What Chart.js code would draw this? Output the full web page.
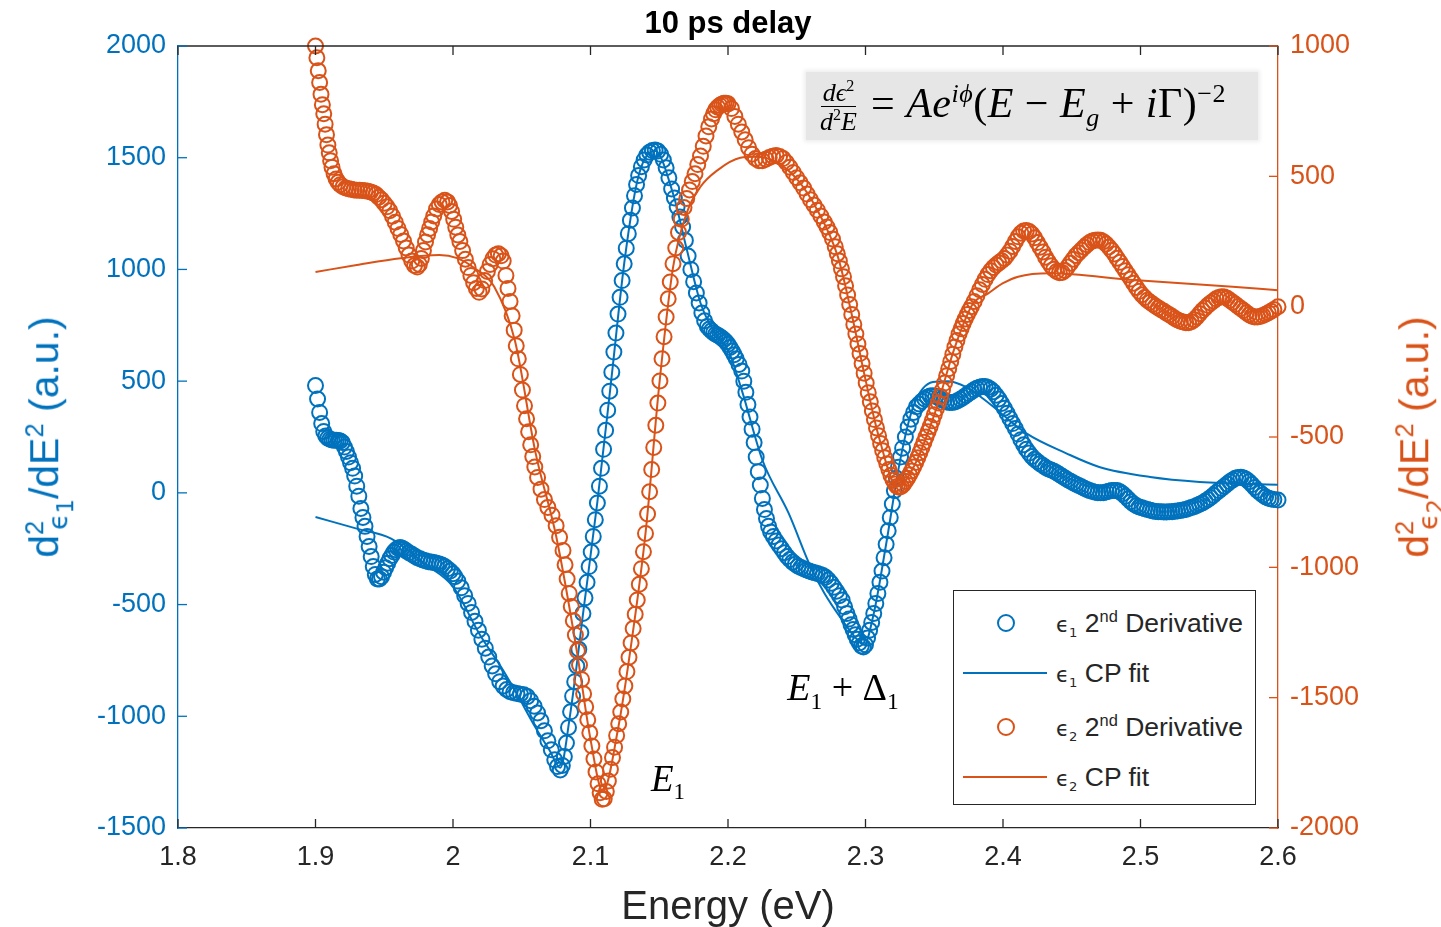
<!DOCTYPE html>
<html>
<head>
<meta charset="utf-8">
<title>10 ps delay</title>
<script src="https://cdn.jsdelivr.net/npm/chart.js@4.4.0/dist/chart.umd.min.js"></script>
<style>
  html, body { margin: 0; padding: 0; background: #fff; overflow: hidden; }
  #wrap { position: relative; width: 1441px; height: 927px; font-family: "Liberation Sans", Arial, sans-serif; }
  #chart { position: absolute; left: 0; top: 0; }
  .lbl { position: absolute; white-space: nowrap; line-height: 1; transform: translate(-50%, -50%); }
  .lbl sup, .lbl sub { font-size: 0.62em; line-height: 0; }
  #title { left: 728px; top: 22px; font-weight: bold; font-size: 31px; color: #000; }
  #xtitle { left: 728px; top: 905px; font-size: 40px; color: #262626; }
  .ytitle { top: 437px; font-size: 41px; }
  #ytitleL { left: 45px; color: #0072BD; transform: translate(-50%, -50%) rotate(-90deg); }
  #ytitleR { left: 1415px; color: #D95319; transform: translate(-50%, -50%) rotate(-90deg); }
  .eps { font-family: "DejaVu Sans", sans-serif; font-size: 0.8em; }
  .eps sub { font-size: 0.85em; }
  .ssub { margin-left: -0.36em; }
  .ytitle .ssub .eps { font-size: 1.05em; }
  .math { font-family: "Liberation Serif", "DejaVu Serif", serif; color: #000; }
  .math i { font-style: italic; }
  #eq { position: absolute; left: 806px; top: 72px; width: 452px; height: 68px; background: #e6e6e6;
        box-shadow: 0 0 4px 2px #eeeeee; display: flex; align-items: center; font-size: 42px; }
  #eq .frac { display: inline-flex; flex-direction: column; align-items: center; font-size: 26px; margin: 0 14px 0 14px; line-height: 1.0; }
  #eq .frac .num { border-bottom: 1.4px solid #000; padding: 0 2px; }
  #eq sup, #eq sub { font-size: 0.62em; }
  #eq .rhs { letter-spacing: 0.5px; }
  #e1 { left: 668px; top: 778px; font-size: 37px; }
  #e1d { left: 843px; top: 687px; font-size: 38px; }
  #legend { position: absolute; left: 953px; top: 590px; width: 301px; height: 213px; border: 1.3px solid #262626; background: #fff; }
  .row { position: absolute; left: 0; height: 0; width: 100%; }
  .row .txt { position: absolute; left: 102px; top: 0; transform: translateY(-50%); font-size: 26.5px; color: #262626; white-space: nowrap; line-height: 1; }
  .row .txt sup, .row .txt sub { font-size: 0.62em; line-height: 0; }
  .circ { position: absolute; left: 43px; top: -9px; width: 14px; height: 14px; border-radius: 50%; border: 2px solid; }
  .seg { position: absolute; left: 9px; top: -1px; width: 84px; height: 2px; }
</style>
</head>
<body>
<div id="wrap">
  <canvas id="chart" width="1441" height="927"></canvas>

  <div class="lbl" id="title">10 ps delay</div>
  <div class="lbl" id="xtitle">Energy (eV)</div>
  <div class="lbl ytitle" id="ytitleL">d<sup>2</sup><sub class="ssub"><span class="eps">ϵ<sub>1</sub></span></sub>/dE<sup>2</sup> (a.u.)</div>
  <div class="lbl ytitle" id="ytitleR">d<sup>2</sup><sub class="ssub"><span class="eps">ϵ<sub>2</sub></span></sub>/dE<sup>2</sup> (a.u.)</div>

  <div id="eq" class="math">
    <span class="frac"><span class="num"><i>dϵ</i><sup>2</sup></span><span class="den"><i>d</i><sup>2</sup><i>E</i></span></span>
    <span class="rhs">= <i>Ae</i><sup><i>iϕ</i></sup>(<i>E</i> − <i>E</i><sub><i>g</i></sub> + <i>i</i>Γ)<sup>−2</sup></span>
  </div>

  <div class="lbl math" id="e1"><i>E</i><sub>1</sub></div>
  <div class="lbl math" id="e1d"><i>E</i><sub>1</sub> + Δ<sub>1</sub></div>

  <div id="legend">
    <div class="row" style="top:32px"><span class="circ" style="border-color:#0072BD"></span><span class="txt"><span class="eps">ϵ<sub>1</sub></span> 2<sup>nd</sup> Derivative</span></div>
    <div class="row" style="top:82px"><span class="seg" style="background:#0072BD"></span><span class="txt"><span class="eps">ϵ<sub>1</sub></span> CP fit</span></div>
    <div class="row" style="top:136px"><span class="circ" style="border-color:#D95319"></span><span class="txt"><span class="eps">ϵ<sub>2</sub></span> 2<sup>nd</sup> Derivative</span></div>
    <div class="row" style="top:186px"><span class="seg" style="background:#D95319"></span><span class="txt"><span class="eps">ϵ<sub>2</sub></span> CP fit</span></div>
  </div>
</div>

<script>
// [energy (eV), value] pairs
const eps1Data = [[1.9,480],[1.9015,420],[1.903,360],[1.9045,310],[1.906,275],[1.9075,255],[1.909,245],[1.9105,240],[1.912,237],[1.9135,236],[1.915,235],[1.9165,234],[1.918,232],[1.9195,225],[1.921,205],[1.9225,185],[1.924,160],[1.9255,135],[1.927,110],[1.9285,75],[1.93,30],[1.9315,-15],[1.933,-70],[1.9345,-110],[1.936,-150],[1.9375,-195],[1.939,-240],[1.9405,-285],[1.942,-330],[1.9435,-365],[1.945,-385],[1.9465,-385],[1.948,-375],[1.9495,-355],[1.951,-335],[1.9525,-315],[1.954,-295],[1.9555,-280],[1.957,-265],[1.9585,-255],[1.96,-248],[1.9615,-245],[1.963,-248],[1.9645,-253],[1.966,-260],[1.968,-268],[1.97,-275],[1.972,-283],[1.974,-290],[1.976,-295],[1.978,-300],[1.98,-304],[1.982,-308],[1.984,-310],[1.986,-312],[1.988,-315],[1.99,-318],[1.992,-323],[1.994,-330],[1.996,-340],[1.998,-350],[2.0,-362],[2.0015,-375],[2.0035,-395],[2.006,-425],[2.0085,-460],[2.011,-495],[2.0135,-535],[2.016,-575],[2.0185,-615],[2.021,-655],[2.0235,-695],[2.026,-735],[2.0285,-775],[2.031,-810],[2.034,-845],[2.0365,-865],[2.039,-880],[2.0415,-890],[2.044,-895],[2.0465,-898],[2.049,-901],[2.0515,-904],[2.054,-912],[2.0565,-930],[2.059,-955],[2.0615,-985],[2.064,-1020],[2.0665,-1065],[2.069,-1110],[2.0715,-1150],[2.074,-1195],[2.076,-1225],[2.078,-1240],[2.0795,-1220],[2.081,-1180],[2.0825,-1120],[2.084,-1050],[2.0855,-980],[2.087,-910],[2.0885,-845],[2.09,-775],[2.0915,-700],[2.093,-625],[2.0945,-540],[2.096,-470],[2.0975,-400],[2.099,-330],[2.1005,-265],[2.102,-195],[2.1035,-120],[2.105,-45],[2.1065,30],[2.108,110],[2.1095,195],[2.111,280],[2.1125,370],[2.114,455],[2.1155,540],[2.117,630],[2.1185,715],[2.12,800],[2.1215,875],[2.123,950],[2.1245,1025],[2.126,1095],[2.1275,1160],[2.129,1220],[2.1305,1275],[2.132,1330],[2.1335,1380],[2.135,1420],[2.137,1460],[2.139,1490],[2.141,1512],[2.143,1525],[2.145,1532],[2.147,1535],[2.149,1530],[2.151,1515],[2.153,1490],[2.155,1455],[2.157,1410],[2.159,1360],[2.161,1320],[2.163,1280],[2.165,1235],[2.167,1190],[2.169,1130],[2.171,1060],[2.173,1000],[2.175,945],[2.177,895],[2.179,850],[2.181,805],[2.183,770],[2.185,745],[2.1865,733],[2.188,725],[2.1895,717],[2.191,710],[2.1925,705],[2.194,700],[2.1955,693],[2.197,685],[2.1985,676],[2.2,665],[2.2015,651],[2.203,635],[2.2045,618],[2.206,600],[2.208,575],[2.21,545],[2.2115,500],[2.213,450],[2.2145,395],[2.216,340],[2.2175,285],[2.219,225],[2.2205,160],[2.222,95],[2.2235,35],[2.225,-25],[2.2265,-75],[2.228,-115],[2.2295,-150],[2.231,-175],[2.233,-195],[2.235,-215],[2.237,-233],[2.239,-250],[2.241,-268],[2.243,-285],[2.245,-298],[2.247,-310],[2.249,-320],[2.251,-328],[2.253,-334],[2.255,-340],[2.257,-345],[2.259,-350],[2.261,-354],[2.263,-358],[2.265,-361],[2.267,-365],[2.269,-370],[2.271,-378],[2.273,-390],[2.275,-405],[2.277,-422],[2.279,-440],[2.281,-460],[2.283,-480],[2.2848,-510],[2.2865,-540],[2.288,-565],[2.2895,-590],[2.291,-612],[2.2925,-635],[2.294,-655],[2.2955,-672],[2.297,-685],[2.2985,-690],[2.3,-680],[2.3015,-650],[2.303,-615],[2.3045,-580],[2.306,-540],[2.3075,-495],[2.309,-450],[2.3105,-400],[2.312,-350],[2.3135,-290],[2.315,-230],[2.3165,-170],[2.318,-110],[2.3195,-50],[2.321,10],[2.3225,65],[2.324,115],[2.3255,160],[2.327,200],[2.329,250],[2.331,295],[2.333,330],[2.335,360],[2.337,385],[2.339,398],[2.341,410],[2.343,420],[2.345,428],[2.347,433],[2.349,435],[2.351,432],[2.353,426],[2.355,418],[2.357,412],[2.359,407],[2.361,404],[2.363,404],[2.365,407],[2.367,412],[2.369,419],[2.371,427],[2.373,436],[2.375,445],[2.377,453],[2.379,461],[2.381,468],[2.383,473],[2.385,476],[2.387,476],[2.389,472],[2.391,464],[2.393,452],[2.395,437],[2.397,420],[2.399,400],[2.401,379],[2.403,356],[2.405,333],[2.407,310],[2.409,288],[2.411,263],[2.413,238],[2.415,215],[2.417,195],[2.419,178],[2.421,163],[2.423,150],[2.425,140],[2.427,130],[2.429,122],[2.431,114],[2.433,107],[2.435,102],[2.437,97],[2.439,90],[2.441,82],[2.443,74],[2.445,66],[2.447,59],[2.449,52],[2.451,45],[2.453,39],[2.455,33],[2.457,27],[2.459,21],[2.461,15],[2.463,10],[2.465,6],[2.467,3],[2.469,1],[2.471,0],[2.473,1],[2.475,4],[2.477,7],[2.479,10],[2.481,11],[2.483,10],[2.485,5],[2.487,-4],[2.489,-15],[2.491,-28],[2.493,-40],[2.495,-50],[2.497,-58],[2.499,-63],[2.501,-67],[2.503,-71],[2.505,-75],[2.507,-78],[2.509,-81],[2.511,-83],[2.513,-84],[2.515,-85],[2.517,-86],[2.519,-86],[2.521,-85],[2.523,-84],[2.525,-82],[2.527,-81],[2.529,-79],[2.531,-77],[2.533,-74],[2.535,-70],[2.537,-66],[2.539,-62],[2.541,-57],[2.543,-51],[2.545,-45],[2.547,-38],[2.549,-30],[2.551,-21],[2.553,-11],[2.555,0],[2.557,10],[2.559,20],[2.561,30],[2.563,40],[2.565,50],[2.567,58],[2.569,65],[2.571,69],[2.573,70],[2.575,67],[2.577,60],[2.579,50],[2.581,37],[2.583,24],[2.585,11],[2.587,0],[2.589,-10],[2.591,-18],[2.593,-24],[2.595,-28],[2.597,-30],[2.6,-32]];

const eps1Fit = [[1.9,-108],[1.93,-160],[1.955,-205],[1.98,-320],[2.0,-420],[2.02,-640],[2.035,-780],[2.046,-895],[2.06,-1050],[2.07,-1150],[2.078,-1230],[2.085,-1000],[2.095,-520],[2.105,-40],[2.115,500],[2.125,1050],[2.135,1420],[2.147,1530],[2.16,1340],[2.17,1090],[2.18,850],[2.19,720],[2.2,640],[2.21,460],[2.225,147],[2.244,-90],[2.26,-330],[2.27,-448],[2.283,-569],[2.293,-650],[2.299,-680],[2.306,-540],[2.315,-230],[2.325,140],[2.335,390],[2.349,496],[2.36,500],[2.373,474],[2.39,400],[2.417,266],[2.446,177],[2.47,116],[2.507,71],[2.543,49],[2.6,36]];

const eps2Data = [[1.9,1000],[1.901,955],[1.902,905],[1.903,860],[1.904,815],[1.905,775],[1.906,740],[1.907,700],[1.908,660],[1.909,620],[1.91,590],[1.911,560],[1.912,535],[1.9135,510],[1.915,490],[1.9165,477],[1.918,468],[1.92,460],[1.922,455],[1.924,452],[1.926,450],[1.928,448],[1.93,447],[1.932,447],[1.934,446],[1.936,445],[1.938,443],[1.94,440],[1.942,436],[1.944,430],[1.946,420],[1.948,410],[1.95,397],[1.952,383],[1.954,368],[1.956,347],[1.958,324],[1.96,300],[1.962,277],[1.964,252],[1.966,225],[1.968,198],[1.97,175],[1.972,158],[1.974,152],[1.9755,162],[1.977,185],[1.9785,215],[1.98,248],[1.9815,276],[1.983,300],[1.9845,325],[1.986,348],[1.988,375],[1.99,392],[1.992,402],[1.994,408],[1.996,402],[1.9975,388],[1.999,365],[2.0005,335],[2.002,305],[2.0035,275],[2.005,250],[2.007,215],[2.009,182],[2.011,150],[2.013,120],[2.015,92],[2.017,70],[2.019,55],[2.021,68],[2.023,100],[2.025,135],[2.027,162],[2.029,184],[2.031,198],[2.033,203],[2.035,195],[2.0365,175],[2.0385,120],[2.04,70],[2.0415,20],[2.043,-35],[2.0445,-90],[2.046,-150],[2.0475,-200],[2.049,-260],[2.0505,-320],[2.052,-380],[2.0535,-430],[2.055,-480],[2.0565,-530],[2.058,-575],[2.0595,-615],[2.0615,-655],[2.064,-700],[2.0665,-740],[2.069,-770],[2.072,-800],[2.075,-840],[2.0775,-885],[2.08,-935],[2.0815,-990],[2.083,-1045],[2.0845,-1100],[2.086,-1150],[2.0875,-1205],[2.089,-1260],[2.0905,-1320],[2.092,-1375],[2.0935,-1430],[2.095,-1485],[2.0965,-1535],[2.098,-1585],[2.0995,-1635],[2.101,-1685],[2.1025,-1735],[2.104,-1785],[2.1055,-1830],[2.107,-1865],[2.1085,-1890],[2.11,-1888],[2.1115,-1860],[2.113,-1820],[2.1145,-1775],[2.116,-1730],[2.1175,-1690],[2.119,-1645],[2.1205,-1600],[2.122,-1555],[2.1235,-1505],[2.125,-1455],[2.1265,-1400],[2.128,-1345],[2.1295,-1290],[2.131,-1235],[2.1325,-1180],[2.134,-1125],[2.1355,-1065],[2.137,-1005],[2.1385,-940],[2.14,-870],[2.1415,-795],[2.143,-710],[2.1445,-625],[2.146,-540],[2.1475,-455],[2.149,-370],[2.1505,-285],[2.152,-200],[2.1535,-115],[2.155,-40],[2.1565,30],[2.158,95],[2.16,165],[2.162,225],[2.164,285],[2.166,335],[2.168,380],[2.17,415],[2.172,448],[2.174,480],[2.176,510],[2.178,545],[2.18,578],[2.182,615],[2.184,655],[2.186,690],[2.188,720],[2.1895,740],[2.191,755],[2.1925,765],[2.194,772],[2.1955,777],[2.197,780],[2.1985,780],[2.2,778],[2.2025,760],[2.205,730],[2.2075,700],[2.21,670],[2.2125,640],[2.215,610],[2.2175,585],[2.22,568],[2.2225,560],[2.225,560],[2.2275,566],[2.23,572],[2.2325,577],[2.235,580],[2.2375,576],[2.24,568],[2.2425,553],[2.245,535],[2.2475,515],[2.25,495],[2.2525,475],[2.255,455],[2.2575,432],[2.26,410],[2.2625,390],[2.265,370],[2.2675,348],[2.27,325],[2.272,306],[2.274,285],[2.276,260],[2.278,230],[2.2795,203],[2.281,175],[2.2825,145],[2.284,115],[2.2855,80],[2.287,45],[2.2885,8],[2.29,-30],[2.2915,-68],[2.293,-105],[2.2945,-143],[2.296,-180],[2.2975,-218],[2.299,-255],[2.3005,-293],[2.302,-330],[2.3035,-365],[2.305,-400],[2.3065,-433],[2.308,-465],[2.3095,-495],[2.311,-525],[2.3125,-553],[2.314,-580],[2.3155,-603],[2.317,-625],[2.3185,-647],[2.32,-665],[2.3215,-680],[2.323,-690],[2.3245,-693],[2.326,-690],[2.3275,-682],[2.329,-670],[2.3305,-658],[2.332,-645],[2.3335,-630],[2.335,-615],[2.3365,-598],[2.338,-580],[2.3395,-560],[2.341,-540],[2.3425,-520],[2.344,-500],[2.3455,-480],[2.347,-460],[2.3485,-438],[2.35,-415],[2.3515,-393],[2.353,-370],[2.3545,-345],[2.356,-320],[2.3575,-293],[2.359,-265],[2.3605,-238],[2.362,-210],[2.3635,-183],[2.365,-155],[2.3665,-130],[2.368,-105],[2.3695,-85],[2.371,-65],[2.3725,-47],[2.374,-30],[2.3755,-15],[2.377,0],[2.379,20],[2.381,42],[2.383,65],[2.385,85],[2.387,105],[2.389,123],[2.391,138],[2.393,150],[2.395,160],[2.397,168],[2.399,176],[2.401,185],[2.403,198],[2.405,213],[2.407,231],[2.409,250],[2.411,268],[2.413,282],[2.415,290],[2.417,292],[2.419,288],[2.421,279],[2.423,264],[2.425,246],[2.427,228],[2.429,210],[2.431,190],[2.433,172],[2.435,157],[2.437,144],[2.439,135],[2.441,130],[2.443,131],[2.445,139],[2.447,152],[2.449,167],[2.451,182],[2.453,196],[2.455,207],[2.457,217],[2.459,228],[2.461,238],[2.463,246],[2.465,252],[2.467,255],[2.469,256],[2.471,255],[2.473,249],[2.475,240],[2.477,229],[2.479,216],[2.481,202],[2.483,186],[2.485,170],[2.487,154],[2.489,138],[2.491,122],[2.493,106],[2.495,90],[2.497,74],[2.499,59],[2.501,46],[2.503,35],[2.505,25],[2.507,17],[2.509,9],[2.511,2],[2.513,-5],[2.515,-12],[2.517,-18],[2.519,-25],[2.521,-31],[2.523,-38],[2.525,-45],[2.527,-51],[2.529,-56],[2.531,-59],[2.533,-62],[2.535,-62],[2.537,-58],[2.539,-50],[2.541,-40],[2.543,-27],[2.545,-15],[2.547,-5],[2.549,5],[2.551,14],[2.553,22],[2.555,30],[2.557,35],[2.559,38],[2.561,37],[2.563,32],[2.565,25],[2.567,17],[2.569,9],[2.571,1],[2.573,-7],[2.575,-15],[2.577,-23],[2.579,-31],[2.581,-37],[2.583,-40],[2.585,-40],[2.587,-38],[2.589,-34],[2.591,-29],[2.593,-23],[2.595,-18],[2.597,-11],[2.6,0]];

const eps2Fit = [[1.9,133],[1.93,160],[1.962,186],[1.99,198],[2.003,186],[2.015,150],[2.03,76],[2.045,-130],[2.06,-560],[2.075,-880],[2.09,-1320],[2.1,-1660],[2.109,-1860],[2.12,-1620],[2.13,-1280],[2.14,-870],[2.15,-300],[2.16,150],[2.17,360],[2.18,460],[2.1925,524],[2.209,571],[2.22,575],[2.235,555],[2.25,490],[2.265,370],[2.28,190],[2.29,-30],[2.3,-280],[2.31,-505],[2.323,-690],[2.335,-615],[2.35,-415],[2.365,-155],[2.378,10],[2.389,50],[2.4,90],[2.411,115],[2.434,128],[2.495,102],[2.567,76],[2.6,63]];

const xRange = [1.8, 2.6];
const y1Range = [-1500, 2000];
const y2Range = [-2000, 1000];

const blue = '#0072BD';
const orange = '#D95319';
const ink = '#262626';
const tickFont = { family: "'Liberation Sans', Arial, sans-serif", size: 27 };

function toXY(pairs) {
  return pairs.map(p => ({ x: p[0], y: p[1] }));
}

// MATLAB style ticks pointing into the axes, plus the top box line
const innerTicks = {
  id: 'innerTicks',
  afterDraw(chart) {
    const { ctx, chartArea: a, scales } = chart;
    const len = 9;
    const seg = (x1, y1, x2, y2) => { ctx.beginPath(); ctx.moveTo(x1, y1); ctx.lineTo(x2, y2); ctx.stroke(); };
    ctx.save();
    ctx.lineWidth = 1.3;
    ctx.strokeStyle = ink;
    seg(a.left, a.top, a.right, a.top);
    scales.x.ticks.forEach(t => {
      const px = scales.x.getPixelForValue(t.value);
      seg(px, a.bottom, px, a.bottom - len);
      seg(px, a.top, px, a.top + len);
    });
    ctx.strokeStyle = blue;
    scales.y.ticks.forEach(t => {
      const py = scales.y.getPixelForValue(t.value);
      seg(a.left, py, a.left + len, py);
    });
    ctx.strokeStyle = orange;
    scales.y2.ticks.forEach(t => {
      const py = scales.y2.getPixelForValue(t.value);
      seg(a.right, py, a.right - len, py);
    });
    ctx.restore();
  }
};

new Chart(document.getElementById('chart'), {
  type: 'scatter',
  data: {
    datasets: [
      { label: 'e1 2nd Derivative', data: toXY(eps1Data), yAxisID: 'y', pointStyle: 'circle', pointRadius: 7.5,
        pointBorderWidth: 2, borderColor: blue, backgroundColor: 'rgba(0,0,0,0)', order: 3, clip: false },
      { label: 'e1 CP fit', data: toXY(eps1Fit), yAxisID: 'y', showLine: true, pointRadius: 0, borderColor: blue,
        borderWidth: 2, cubicInterpolationMode: 'monotone', order: 2 },
      { label: 'e2 2nd Derivative', data: toXY(eps2Data), yAxisID: 'y2', pointStyle: 'circle', pointRadius: 7.5,
        pointBorderWidth: 2, borderColor: orange, backgroundColor: 'rgba(0,0,0,0)', order: 1, clip: false },
      { label: 'e2 CP fit', data: toXY(eps2Fit), yAxisID: 'y2', showLine: true, pointRadius: 0, borderColor: orange,
        borderWidth: 2, cubicInterpolationMode: 'monotone', order: 0 }
    ]
  },
  options: {
    responsive: false,
    animation: false,
    devicePixelRatio: 1,
    layout: { padding: { top: 46, left: 0, right: 0, bottom: 0 } },
    plugins: { legend: { display: false }, tooltip: { enabled: false } },
    scales: {
      x: {
        type: 'linear', min: xRange[0], max: xRange[1],
        ticks: { stepSize: 0.1, font: tickFont, color: ink, padding: 13, callback: v => String(+v.toFixed(1)) },
        grid: { display: false, drawTicks: false },
        border: { color: ink, width: 1.3 },
        afterFit: s => { s.height = 99; }
      },
      y: {
        position: 'left', min: y1Range[0], max: y1Range[1],
        ticks: { stepSize: 500, font: tickFont, color: blue, padding: 12, callback: v => String(v) },
        grid: { display: false, drawTicks: false },
        border: { color: blue, width: 1.3 },
        afterFit: s => { s.width = 178; }
      },
      y2: {
        position: 'right', min: y2Range[0], max: y2Range[1],
        ticks: { stepSize: 500, font: tickFont, color: orange, padding: 12, callback: v => String(v) },
        grid: { display: false, drawTicks: false },
        border: { color: orange, width: 1.3 },
        afterFit: s => { s.width = 163; }
      }
    }
  },
  plugins: [innerTicks]
});
</script>
</body>
</html>
